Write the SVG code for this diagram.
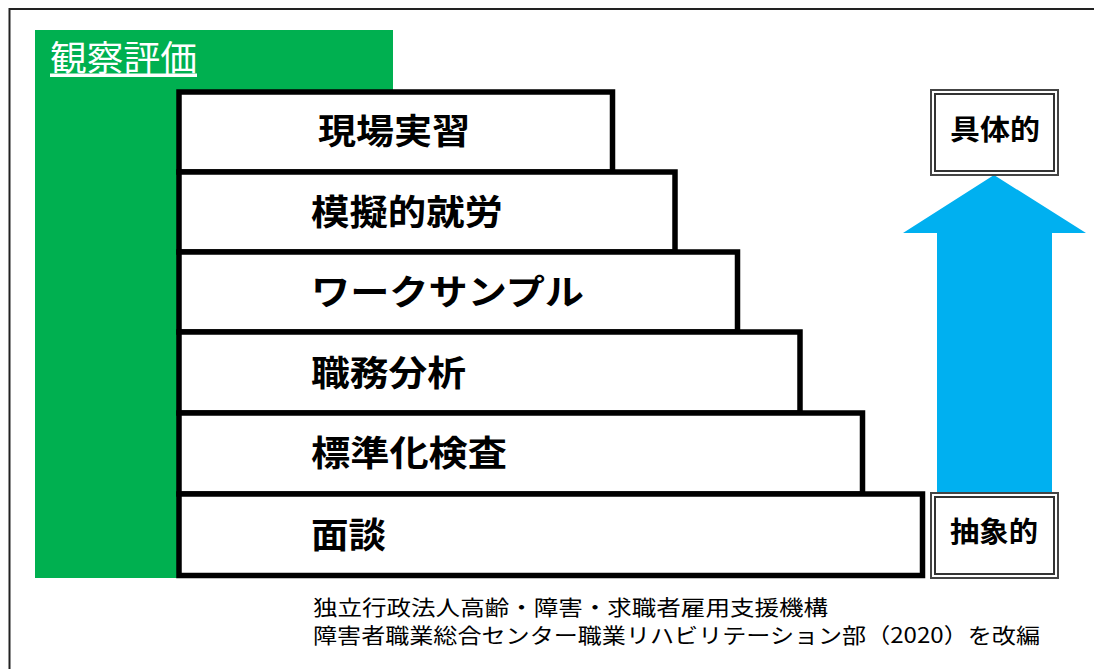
<svg xmlns="http://www.w3.org/2000/svg" width="1094" height="669" viewBox="0 0 1094 669">
<style>
.step{fill:#fff;stroke:#000;stroke-width:5.5}
.lbl{font-family:"Noto Sans CJK JP","Noto Sans",sans-serif;font-weight:bold;font-size:35px;fill:#000;dominant-baseline:central}
.tag{font-family:"Noto Sans CJK JP","Noto Sans",sans-serif;font-weight:bold;font-size:28px;fill:#000;text-anchor:middle;dominant-baseline:central}
.note{font-family:"Noto Sans CJK JP","Noto Sans",sans-serif;font-size:21px;fill:#000;dominant-baseline:central}
.dbl-o{fill:#fff;stroke:#444;stroke-width:2}
.dbl-i{fill:none;stroke:#333;stroke-width:2}
</style>
<rect x="0" y="0" width="1094" height="669" fill="#fff"/>
<rect x="9.5" y="9" width="1100" height="680" fill="none" stroke="#222" stroke-width="2"/>
<g id="observation">
<rect x="35" y="30" width="358" height="548" fill="#00B050"/>
<text x="50" y="55" font-family="'Noto Sans CJK JP','Noto Sans',sans-serif" font-size="35" fill="#fff" dominant-baseline="central" textLength="147" lengthAdjust="spacingAndGlyphs" text-decoration="underline">観察評価</text>
</g>
<g id="step1"><rect class="step" x="179" y="92" width="433.5" height="80"/><text class="lbl" x="318" y="128" textLength="152" lengthAdjust="spacingAndGlyphs">現場実習</text></g>
<g id="step2"><rect class="step" x="179" y="172" width="496" height="80"/><text class="lbl" x="311" y="209" textLength="192" lengthAdjust="spacingAndGlyphs">模擬的就労</text></g>
<g id="step3"><rect class="step" x="179" y="252" width="558.5" height="80"/><text class="lbl" x="311" y="289" textLength="273" lengthAdjust="spacingAndGlyphs">ワークサンプル</text></g>
<g id="step4"><rect class="step" x="179" y="332" width="621" height="81"/><text class="lbl" x="311" y="370" textLength="155" lengthAdjust="spacingAndGlyphs">職務分析</text></g>
<g id="step5"><rect class="step" x="179" y="413" width="683.5" height="81"/><text class="lbl" x="311" y="450" textLength="196" lengthAdjust="spacingAndGlyphs">標準化検査</text></g>
<g id="step6"><rect class="step" x="179" y="494" width="743.5" height="81.5"/><text class="lbl" x="311" y="532" textLength="75" lengthAdjust="spacingAndGlyphs">面談</text></g>
<g id="connectors">
<polygon points="994,175 1086,233 1052,233 1052,493 937,493 937,233 903,233" fill="#00B0F0"/>
</g>
<g id="concrete">
<rect class="dbl-o" x="931" y="90" width="127" height="85"/>
<rect class="dbl-i" x="935" y="94" width="119" height="77"/>
<text class="tag" x="995" y="128" textLength="90" lengthAdjust="spacingAndGlyphs">具体的</text>
</g>
<g id="abstract">
<rect class="dbl-o" x="931" y="493" width="127" height="85"/>
<rect class="dbl-i" x="935" y="497" width="119" height="77"/>
<text class="tag" x="994" y="530" textLength="88" lengthAdjust="spacingAndGlyphs">抽象的</text>
</g>
<g id="source">
<text class="note" x="313" y="606" textLength="515" lengthAdjust="spacingAndGlyphs">独立行政法人高齢・障害・求職者雇用支援機構</text>
<text class="note" x="313" y="634" textLength="727" lengthAdjust="spacingAndGlyphs">障害者職業総合センター職業リハビリテーション部（2020）を改編</text>
</g>
</svg>
